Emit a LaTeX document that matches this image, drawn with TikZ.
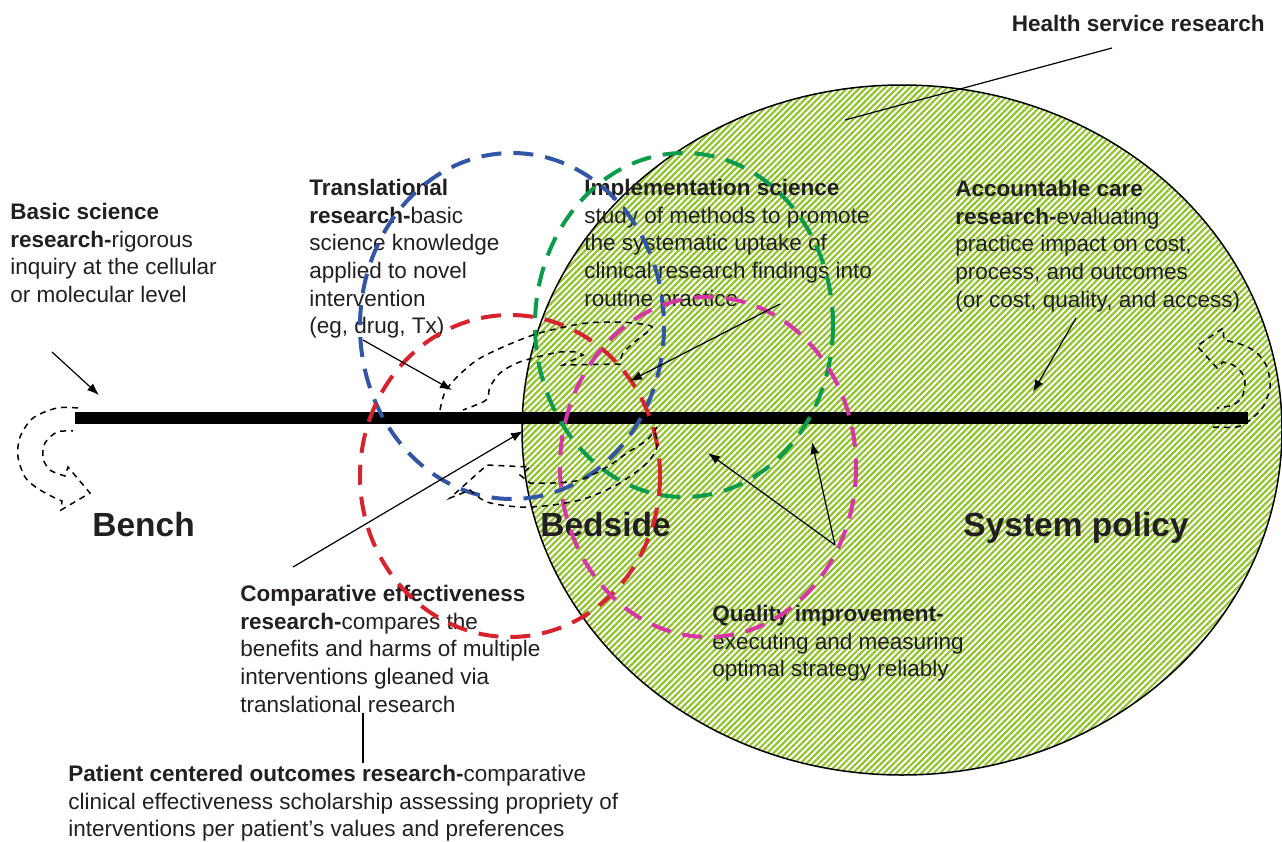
\documentclass[tikz,border=0pt]{standalone}
\usepackage{fontspec}
\setmainfont{Liberation Sans}
\usetikzlibrary{arrows.meta,patterns.meta}
\definecolor{ink}{RGB}{35,31,32}
\definecolor{hatchgreen}{RGB}{145,195,45}
\definecolor{tblue}{RGB}{50,85,165}
\definecolor{cred}{RGB}{215,35,45}
\definecolor{igreen}{RGB}{10,155,75}
\definecolor{qmagenta}{RGB}{215,55,165}
\tikzset{
  txt/.style={anchor=north west, inner sep=0pt, align=left, text=ink,
    font=\fontsize{11.25}{13.8}\selectfont},
  bigtxt/.style={anchor=base west, inner sep=0pt, text=ink,
    font=\fontsize{16.75}{20}\selectfont\bfseries},
  ring/.style={line width=2pt, dash pattern=on 10pt off 6pt},
  uturn/.style={line width=0.75pt, dash pattern=on 3pt off 2.5pt},
  pointer/.style={line width=0.6pt, -{Latex[length=6pt,width=4.5pt]}},
}
\begin{document}
\begin{tikzpicture}[x=0.5pt, y=-0.5pt]
\useasboundingbox (0,0) rectangle (1282,842);

\draw[line width=0.75pt, fill=white, pattern={Lines[angle=45,distance=2.2pt,line width=1.1pt]}, pattern color=hatchgreen]
  (902,430) ellipse [x radius=380, y radius=345];
\draw[line width=6pt] (75,418) -- (1248,418);

\node[txt] (basic) at (10,203) {\textbf{Basic science}\\\textbf{research-}rigorous\\inquiry at the cellular\\or molecular level};
\node[txt] (transl) at (309,179) {\textbf{Translational}\\\textbf{research-}basic\\science knowledge\\applied to novel\\intervention\\(eg, drug, Tx)};
\node[txt] (impl) at (584,179) {\textbf{Implementation science}\\study of methods to promote\\the systematic uptake of\\clinical research findings into\\routine practice};
\node[txt] (acc) at (955,180) {\textbf{Accountable care}\\\textbf{research-}evaluating\\practice impact on cost,\\process, and outcomes\\(or cost, quality, and access)};
\node[txt, anchor=north east] (hsr) at (1265,15) {\textbf{Health service research}};
\node[txt] (cer) at (240,585) {\textbf{Comparative effectiveness}\\\textbf{research-}compares the\\benefits and harms of multiple\\interventions gleaned via\\translational research};
\node[txt] (pcor) at (68,765) {\textbf{Patient centered outcomes research-}comparative\\clinical effectiveness scholarship assessing propriety of\\interventions per patient’s values and preferences};
\node[txt] (qi) at (712,605) {\textbf{Quality improvement-}\\executing and measuring\\optimal strategy reliably};
\node[bigtxt] (bench) at (92,536) {Bench};
\node[bigtxt] (bedside) at (540,536) {Bedside};
\node[bigtxt] (system) at (963,536) {System policy};

\draw[ring, tblue] (512,326) ellipse [x radius=152, y radius=173];
\draw[ring, igreen] (684,325) ellipse [x radius=149, y radius=172];
\draw[ring, cred] (510,476) ellipse [x radius=150, y radius=161];
\draw[ring, qmagenta] (708,467) ellipse [x radius=148, y radius=170];

\draw[uturn] plot[smooth] coordinates {(78,408) (57,408) (33,418) (20,437) (18,457) (25,477) (37,488) (53,497) (62,501)}
  -- (61,510) -- (90,493) -- (68,467)
  -- plot[smooth] coordinates {(65,476) (50,470) (43,458) (45,443) (57,432) (73,431)};
\draw[uturn] plot[smooth] coordinates {(1213,427) (1237,427) (1250,420) (1263,407) (1270,387) (1267,367) (1257,353) (1243,345) (1224,340)}
  -- (1223,328) -- (1197,346) -- (1217,368)
  -- plot[smooth] coordinates {(1223,362) (1233,365) (1242,373) (1245,383) (1242,397) (1233,405) (1217,408)};
\draw[uturn] plot[smooth] coordinates {(440,410) (445,392) (457,377) (477,360) (503,347) (533,335) (560,328) (587,323) (613,322) (633,323) (652,327) (637,340) (623,353) (620,364)}
  -- (563,365) -- (583,355)
  -- plot[smooth] coordinates {(577,352) (560,352) (537,357) (517,363) (500,373) (490,387) (488,397) (483,402) (463,410)};
\draw[uturn] plot[smooth] coordinates {(655,433) (657,447) (647,463) (620,483) (587,498) (553,505) (520,507) (487,502) (470,490)}
  -- (450,498) -- (487,465) -- (530,467) -- (520,475)
  -- plot[smooth] coordinates {(530,483) (553,483) (580,480) (607,467) (627,453) (647,440) (657,427)};

\coordinate (basicFrom) at (52,352);
\coordinate (basicTo) at (99,395);
\coordinate (translFrom) at (363,340);
\coordinate (translTo) at (452,390);
\coordinate (implFrom) at (780,304);
\coordinate (implTo) at (630,381);
\coordinate (accFrom) at (1076,318);
\coordinate (accTo) at (1033,392);
\coordinate (cerFrom) at (293,567);
\coordinate (cerTo) at (523,431);
\coordinate (qiFrom) at (835,545);
\coordinate (qiToA) at (708,453);
\coordinate (qiToB) at (812,442);
\coordinate (hsrFrom) at (1112,48);
\coordinate (hsrTo) at (845,120);
\coordinate (pcorTop) at (363,713);
\coordinate (pcorBot) at (363,763);

\draw[pointer] (basicFrom) -- (basicTo);
\draw[pointer] (translFrom) -- (translTo);
\draw[pointer] (implFrom) -- (implTo);
\draw[pointer] (accFrom) -- (accTo);
\draw[pointer] (cerFrom) -- (cerTo);
\draw[pointer] (qiFrom) -- (qiToA);
\draw[pointer] (qiFrom) -- (qiToB);
\draw[line width=0.6pt] (hsrFrom) -- (hsrTo);
\draw[line width=0.6pt] (pcorTop) -- (pcorBot);
\end{tikzpicture}
\end{document}
